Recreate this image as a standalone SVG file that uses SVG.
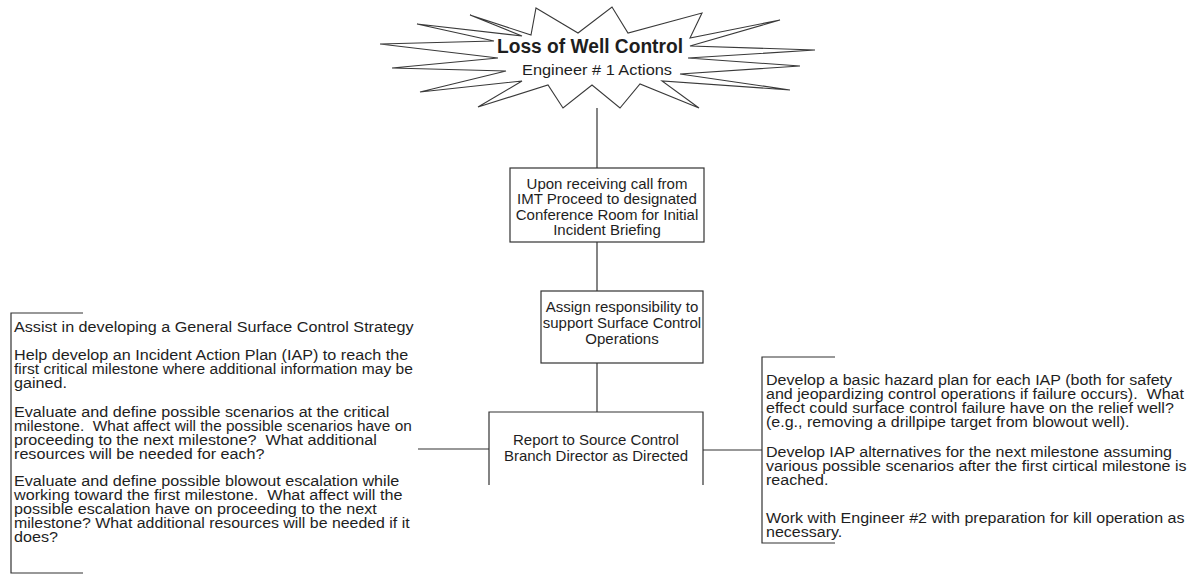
<svg xmlns="http://www.w3.org/2000/svg" width="1203" height="575" viewBox="0 0 1203 575">
  <style>
    .bg { fill: #ffffff; }
    .box { fill: #ffffff; stroke: #333333; stroke-width: 1.2; }
    .edge { fill: none; stroke: #333333; stroke-width: 1.2; }
    .burst { fill: #ffffff; stroke: #3a3a3a; stroke-width: 1.1; stroke-linejoin: miter; }
    .t { font-family: "Liberation Sans", Arial, sans-serif; font-size: 15px; fill: #1e1e1e; }
    .c { text-anchor: middle; }
    .title { font-family: "Liberation Sans", Arial, sans-serif; font-weight: bold; font-size: 20px; fill: #1e1e1e; text-anchor: middle; }
    .sub { font-family: "Liberation Sans", Arial, sans-serif; font-size: 15px; fill: #1e1e1e; text-anchor: middle; }
  </style>
  <rect class="bg" x="0" y="0" width="1203" height="575"/>

  <!-- connectors -->
  <g id="connectors">
    <line class="edge" x1="597" y1="108" x2="597" y2="168"/>
    <line class="edge" x1="597" y1="242" x2="597" y2="291"/>
    <line class="edge" x1="597" y1="363" x2="597" y2="412"/>
    <line class="edge" x1="418" y1="449" x2="489" y2="449"/>
    <line class="edge" x1="703" y1="450" x2="762" y2="450"/>
  </g>

  <!-- title starburst -->
  <g id="title-burst">
    <polygon class="burst" points="536,8 578,33 612,7 628,33 702,13 690,38 780,20 690,46 815,50 688,58 800,66 680,74 790,90 662,81 699,108 640,84 620,108 592,85 563,108 548,85 478,107 522,81 420,92 506,71 392,68 498,58 380,44 494,41 417,24 522,36 470,15 531,35"/>
    <text class="title" x="590" y="53" textLength="186" lengthAdjust="spacingAndGlyphs">Loss of Well Control</text>
    <text class="sub" x="597" y="75" textLength="150" lengthAdjust="spacingAndGlyphs">Engineer # 1 Actions</text>
  </g>

  <!-- step 1 -->
  <g id="node-receive-call">
    <rect class="box" x="510" y="168" width="194" height="74"/>
    <text class="t c" x="607" y="189">Upon receiving call from</text>
    <text class="t c" x="607" y="204">IMT Proceed to designated</text>
    <text class="t c" x="607" y="219.5">Conference Room for Initial</text>
    <text class="t c" x="607" y="235">Incident Briefing</text>
  </g>

  <!-- step 2 -->
  <g id="node-assign">
    <rect class="box" x="541" y="291" width="162" height="72"/>
    <text class="t c" x="622" y="312">Assign responsibility to</text>
    <text class="t c" x="622" y="328">support Surface Control</text>
    <text class="t c" x="622" y="344">Operations</text>
  </g>

  <!-- step 3 (open-bottom box) -->
  <g id="node-report">
    <path class="edge" d="M489,485 V412 H703 V485"/>
    <text class="t c" x="596" y="445">Report to Source Control</text>
    <text class="t c" x="596" y="461">Branch Director as Directed</text>
  </g>

  <!-- left task list -->
  <g id="node-left-tasks">
    <path class="edge" d="M83,313 H11 V573 H83"/>
    <g transform="translate(14,0) scale(1.078,1)">
      <text class="t" x="0" y="332">Assist in developing a General Surface Control Strategy</text>
      <text class="t" x="0" y="360">Help develop an Incident Action Plan (IAP) to reach the</text>
      <text class="t" x="0" y="374" textLength="370" lengthAdjust="spacingAndGlyphs">first critical milestone where additional information may be</text>
      <text class="t" x="0" y="388">gained.</text>
      <text class="t" x="0" y="417">Evaluate and define possible scenarios at the critical</text>
      <text class="t" x="0" y="431" textLength="369" lengthAdjust="spacingAndGlyphs">milestone.&#160; What affect will the possible scenarios have on</text>
      <text class="t" x="0" y="445">proceeding to the next milestone?&#160; What additional</text>
      <text class="t" x="0" y="459">resources will be needed for each?</text>
      <text class="t" x="0" y="486">Evaluate and define possible blowout escalation while</text>
      <text class="t" x="0" y="500">working toward the first milestone.&#160; What affect will the</text>
      <text class="t" x="0" y="514">possible escalation have on proceeding to the next</text>
      <text class="t" x="0" y="528" textLength="367" lengthAdjust="spacingAndGlyphs">milestone? What additional resources will be needed if it</text>
      <text class="t" x="0" y="542">does?</text>
    </g>
  </g>

  <!-- right task list -->
  <g id="node-right-tasks">
    <path class="edge" d="M835,357 H762 V543 H835"/>
    <g transform="translate(766,0) scale(1.07,1)">
      <text class="t" x="0" y="385">Develop a basic hazard plan for each IAP (both for safety</text>
      <text class="t" x="0" y="399">and jeopardizing control operations if failure occurs).&#160; What</text>
      <text class="t" x="0" y="413">effect could surface control failure have on the relief well?</text>
      <text class="t" x="0" y="427">(e.g., removing a drillpipe target from blowout well).</text>
      <text class="t" x="0" y="457">Develop IAP alternatives for the next milestone assuming</text>
      <text class="t" x="0" y="471">various possible scenarios after the first cirtical milestone is</text>
      <text class="t" x="0" y="485">reached.</text>
      <text class="t" x="0" y="523">Work with Engineer #2 with preparation for kill operation as</text>
      <text class="t" x="0" y="537">necessary.</text>
    </g>
  </g>
</svg>
